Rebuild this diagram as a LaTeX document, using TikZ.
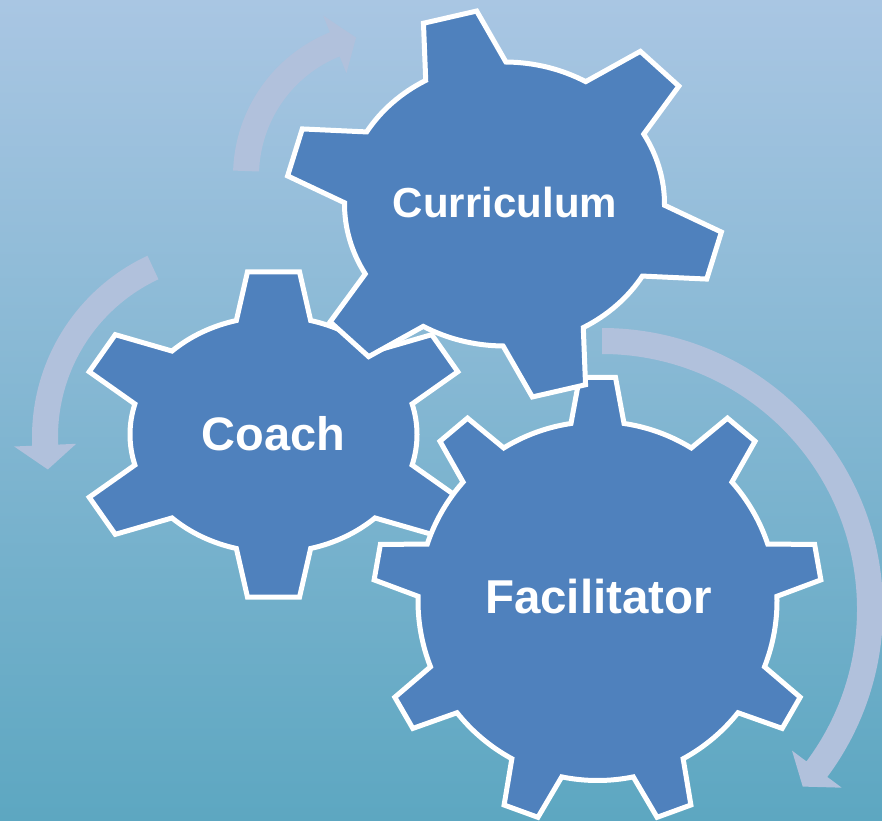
\documentclass[tikz,border=0pt]{standalone}
\usepackage{fontspec}
\setmainfont{Liberation Sans}

\definecolor{bgtop}{RGB}{169,198,227}
\definecolor{bgbottom}{RGB}{93,167,193}
\definecolor{gearblue}{RGB}{79,129,189}
\definecolor{arrowlilac}{RGB}{177,193,220}

% gear: center, xscale, yscale, teeth, rotation, tip radius, tip half angle, base half angle
\newcommand{\gear}[8]{%
	\begin{scope}[shift={#1}, xscale=#2, yscale=#3]
		\pgfmathsetmacro{\gstep}{360/#4}
		\filldraw [gearbody] ({#5-#8}:1)
			\foreach \k in {1,...,#4} {
				-- ({#5+(\k-1)*\gstep-#7}:#6) -- ({#5+(\k-1)*\gstep+#7}:#6)
				-- ({#5+(\k-1)*\gstep+#8}:1)
				arc [start angle={#5+(\k-1)*\gstep+#8}, end angle={#5+\k*\gstep-#8}, radius=1]
			} -- cycle;
	\end{scope}}

% turning arrow: center, radius, tail angle, head angle, tip angle
\newcommand{\turnarrow}[5]{%
	\begin{scope}[shift={#1}]
		\fill [turnfill] ({#3}:{#2+13}) arc [start angle=#3, end angle=#4, radius=#2+13]
			-- ({#4}:{#2+31}) -- ({#5}:{#2}) -- ({#4}:{#2-31}) -- ({#4}:{#2-13})
			arc [start angle=#4, end angle=#3, radius=#2-13] -- cycle;
	\end{scope}}

\begin{document}
\begin{tikzpicture}[x=1pt, y=1pt,
		gearbody/.style={fill=gearblue, draw=white, line width=5pt},
		turnfill/.style={fill=arrowlilac},
		gearlabel/.style={text=white, font=\bfseries, anchor=base, inner sep=0pt}]
	\useasboundingbox (0, 0) rectangle (882, 820);
	\clip (0, 0) rectangle (882, 820);
	\shade [top color=bgtop, bottom color=bgbottom] (0, 0) rectangle (882, 820);

	\turnarrow{(388, 644)}{142}{178}{112}{103}
	\turnarrow{(232, 383)}{187}{115}{182.5}{190}
	\turnarrow{(602, 211)}{268}{90}{-36.7}{-41.5}

	\gear{(273.5, 385.5)}{143.5}{118}{6}{90}{1.39}{7.5}{15}
	\gear{(597.5, 219)}{179.5}{179.5}{9}{90}{1.25}{4.6}{8.5}
	\gear{(504.5, 616)}{160}{142}{6}{104.5}{1.37}{7.2}{15}

	\node [gearlabel, font=\bfseries\fontsize{42}{50}\selectfont] (curriculum) at (505, 602) {Curriculum};
	\node [gearlabel, font=\bfseries\fontsize{47}{56}\selectfont] (coach) at (273.5, 370) {Coach};
	\node [gearlabel, font=\bfseries\fontsize{47.5}{56}\selectfont] (facilitator) at (598.5, 207) {Facilitator};
\end{tikzpicture}
\end{document}
